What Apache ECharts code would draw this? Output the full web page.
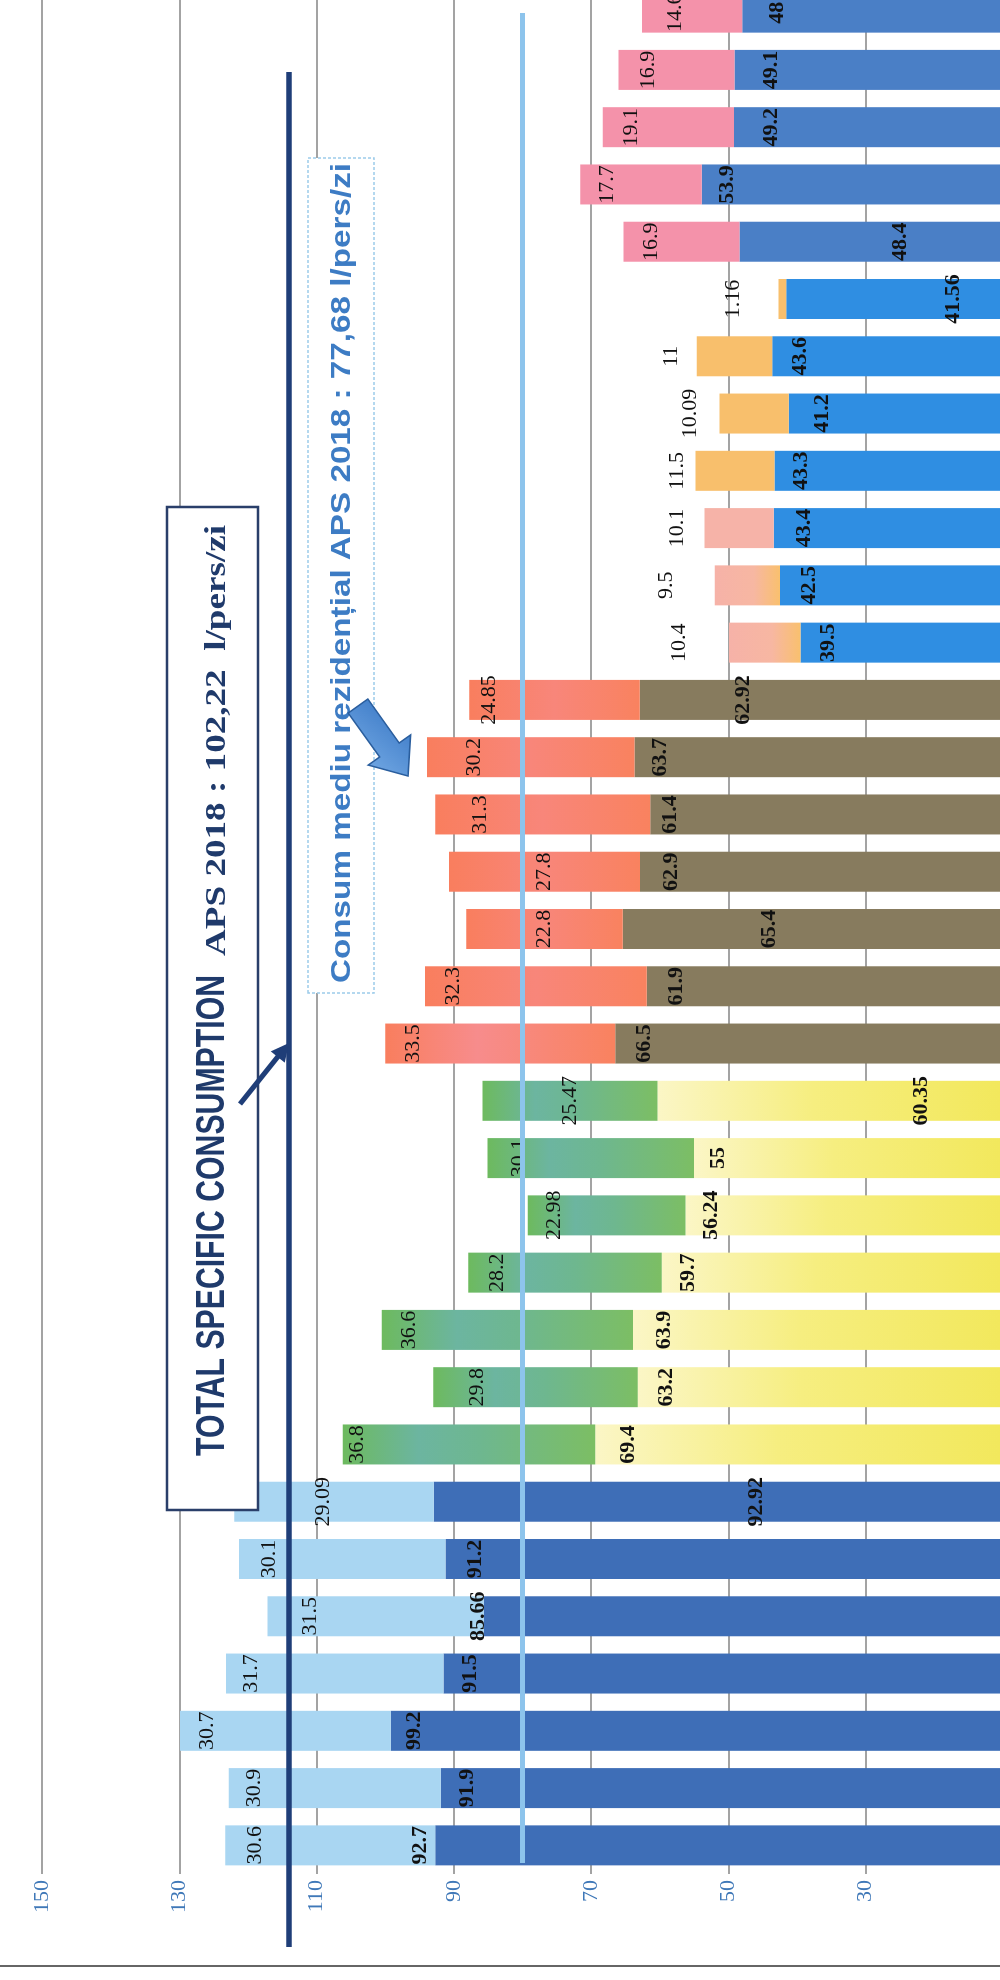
<!DOCTYPE html>
<html>
<head>
<meta charset="utf-8">
<script src="https://cdn.jsdelivr.net/npm/echarts@6/dist/echarts.min.js"></script>
<style>
html,body{margin:0;padding:0;background:#fff;}
#wrap{position:relative;width:1000px;height:1980px;overflow:hidden;background:#fff;}
#main{position:absolute;left:0;top:0;width:1980px;height:1000px;transform-origin:0 0;transform:translate(0px,1980px) rotate(-90deg);}
</style>
</head>
<body>
<div id="wrap"><div id="main"></div></div>
<script>
// ---------------- data ----------------
const categories = ['1','2','3','4','5','6','7','8','9','10','11','12','13','14','15','16','17','18','19','20','21','22','23','24','25','26','27','28','29','30','31','32','33'];
const baseValues = [92.7, 91.9, 99.2, 91.5, 85.66, 91.2, 92.92,
                    69.4, 63.2, 63.9, 59.7, 56.24, 55, 60.35,
                    66.5, 61.9, 65.4, 62.9, 61.4, 63.7, 62.92,
                    39.5, 42.5, 43.4, 43.3, 41.2, 43.6, 41.56,
                    48.4, 53.9, 49.2, 49.1, 48];
const topValues  = [30.6, 30.9, 30.7, 31.7, 31.5, 30.1, 29.09,
                    36.8, 29.8, 36.6, 28.2, 22.98, 30.1, 25.47,
                    33.5, 32.3, 22.8, 27.8, 31.3, 30.2, 24.85,
                    10.4, 9.5, 10.1, 11.5, 10.09, 11, 1.16,
                    16.9, 17.7, 19.1, 16.9, 14.6];
const groupOf    = [0,0,0,0,0,0,0, 1,1,1,1,1,1,1, 2,2,2,2,2,2,2, 3,3,3,3,3,3,3, 4,4,4,4,4];
const valueTicks = [150, 130, 110, 90, 70, 50, 30];
const totalTitle = 'TOTAL SPECIFIC CONSUMPTION';
const totalText  = 'APS 2018 : 102,22  l/pers/zi';
const residentialText = 'Consum mediu rezidențial APS 2018 : 77,68 l/pers/zi';
const totalLineValue = 114;        // where the dark line is drawn in the picture
const residentialLineValue = 80;   // where the light blue line is drawn in the picture

// ---------------- label placement (style, not data) ----------------
const baseLabelPlace = [
  ['top',4],['insideTop',15],['insideTop',13],['insideTop',16],['top',-6],['insideTop',19],['insideTop',311],
  ['insideTop',22],['insideTop',17],['insideTop',20],['insideTop',15],['insideTop',15],['insideTop',13],['insideBottom',71],
  ['insideTop',18],['insideTop',19],['insideTop',136],['insideTop',20],['insideTop',9],['insideTop',15],['insideTop',93],
  ['insideTop',17],['insideTop',18],['insideTop',20],['insideTop',16],['insideTop',22],['insideTop',17],['insideBottom',39],
  ['insideBottom',92],['insideTop',15],['insideTop',26],['insideTop',26],['insideTop',24]
];
const topLabelPlace = [
  ['insideTop',19],['insideTop',15],['insideTop',16],['insideTop',14],['insideTop',32],['insideTop',19],['insideTop',78],
  ['insideTop',4],['insideTop',33],['insideTop',16],['insideTop',18],['insideTop',15],['insideTop',21],['inside',0],
  ['insideTop',17],['insideTop',17],['inside',0],['inside',0],['insideTop',34],['insideTop',36],['insideTop',9],
  ['top',39],['top',37],['top',16],['top',7],['top',18],['top',15],['top',34],
  ['insideTop',17],['insideTop',16],['insideTop',17],['insideTop',19],['insideTop',22]
];

// ---------------- styles ----------------
const LG = (stops) => new echarts.graphic.LinearGradient(0, 0, 0, 1, stops.map(s => ({offset: s[0], color: s[1]})));
function baseColor(i) {
  switch (groupOf[i]) {
    case 0: return '#3E6EB7';
    case 1: return LG([[0,'#FBF6C6'],[0.45,'#F6EE80'],[1,'#F2E85C']]);
    case 2: return '#877B5E';
    case 3: return '#2F8EE2';
    default: return '#4A7FC6';
  }
}
function topColor(i) {
  switch (groupOf[i]) {
    case 0: return '#A9D6F2';
    case 1: return LG([[0,'#6DBA5E'],[0.3,'#6CB5A0'],[0.55,'#6EB78F'],[1,'#7CBE64']]);
    case 2:
      if (i === 14) return LG([[0,'#F97E5E'],[0.4,'#F78C8C'],[1,'#F9825F']]);
      return LG([[0,'#F97E5E'],[0.5,'#F8867A'],[1,'#F9825F']]);
    case 3:
      if (i === 21 || i === 22) return LG([[0,'#F6B2A8'],[0.6,'#F7B7A2'],[1,'#F9C06E']]);
      if (i === 23) return '#F6B3A8';
      return '#F8BF6C';
    default: return '#F492AA';
  }
}
const serif = "'Liberation Serif','Times New Roman',serif";
const sans = "'Liberation Sans',Arial,sans-serif";

function measure(text, font) {
  const c = document.createElement('canvas').getContext('2d');
  c.font = font;
  return c.measureText(text).width;
}

const chart = echarts.init(document.getElementById('main'), null, {renderer: 'canvas', width: 1980, height: 1000});

function mkData(values, colorFn, place) {
  return values.map((v, i) => ({
    value: v,
    itemStyle: {color: colorFn(i)},
    label: {position: place[i][0], distance: place[i][1]}
  }));
}

const option = {
  backgroundColor: '#ffffff',
  animation: false,
  grid: {left: 106, right: -16, top: 42, bottom: -3, containLabel: false, outerBoundsMode: 'none'},
  xAxis: {
    type: 'category', data: categories,
    axisLine: {show: false}, axisTick: {show: false}, axisLabel: {show: false}, splitLine: {show: false}
  },
  yAxis: {
    type: 'value', min: 10, max: 150, interval: 20,
    axisLine: {show: false}, axisTick: {show: false},
    axisLabel: {
      showMinLabel: false, margin: 6, color: '#3F78B8', fontFamily: serif, fontSize: 22,
      formatter: v => valueTicks.includes(v) ? String(v) : ''
    },
    splitLine: {show: true, lineStyle: {color: '#858585', width: 1.5}}
  },
  series: [
    {
      name: 'base', type: 'bar', stack: 'total', barWidth: 40,
      label: {show: true, color: '#111', fontFamily: serif, fontSize: 22, fontWeight: 'bold'},
      data: mkData(baseValues, baseColor, baseLabelPlace)
    },
    {
      name: 'top', type: 'bar', stack: 'total', barWidth: 40,
      label: {show: true, color: '#111', fontFamily: serif, fontSize: 22, fontWeight: 'normal'},
      data: mkData(topValues, topColor, topLabelPlace)
    }
  ]
};
chart.setOption(option);

// ---------------- annotations ----------------
const yTotal = chart.convertToPixel({yAxisIndex: 0}, totalLineValue);
const yRes = chart.convertToPixel({yAxisIndex: 0}, residentialLineValue);

function arrowHead(x1, y1, x2, y2, len, half) {
  const dx = x2 - x1, dy = y2 - y1, L = Math.hypot(dx, dy), ux = dx / L, uy = dy / L;
  const bx = x2 - ux * len, by = y2 - uy * len;
  return [[x2, y2], [bx - uy * half, by + ux * half], [bx + uy * half, by - ux * half]];
}
function blockArrow(x1, y1, x2, y2, shaftHalf, headHalf, headLen) {
  const dx = x2 - x1, dy = y2 - y1, L = Math.hypot(dx, dy), ux = dx / L, uy = dy / L;
  const nx = -uy, ny = ux;
  const bx = x2 - ux * headLen, by = y2 - uy * headLen;
  return [
    [x1 + nx * shaftHalf, y1 + ny * shaftHalf],
    [bx + nx * shaftHalf, by + ny * shaftHalf],
    [bx + nx * headHalf, by + ny * headHalf],
    [x2, y2],
    [bx - nx * headHalf, by - ny * headHalf],
    [bx - nx * shaftHalf, by - ny * shaftHalf],
    [x1 - nx * shaftHalf, y1 - ny * shaftHalf]
  ];
}

const fontA = 'bold 40px ' + sans;
const fontB = 'bold 30px ' + serif;
const fontC = 'bold 28px ' + sans;
const sA = 481 / measure(totalTitle, fontA);
const sB = 431 / measure(totalText, fontB);
const sC = 820 / measure(residentialText, fontC);

chart.setOption({
  graphic: [
    {type: 'line', z: 90, shape: {x1: 14, y1: 0, x2: 14, y2: 1000}, style: {stroke: '#666', lineWidth: 2}},
    {type: 'line', z: 95, shape: {x1: 117, y1: yRes, x2: 1967, y2: yRes}, style: {stroke: '#8DC4EC', lineWidth: 5}},
    {type: 'line', z: 96, shape: {x1: 33, y1: yTotal, x2: 1908, y2: yTotal}, style: {stroke: '#1F3E78', lineWidth: 5.5}},
    {type: 'rect', z: 97, shape: {x: 470, y: 167, width: 1003, height: 91}, style: {fill: '#fff', stroke: '#2A3F6A', lineWidth: 2.5}},
    {type: 'text', z: 98, x: 524, y: 233, scaleX: sA, style: {text: totalTitle, font: fontA, fill: '#1F3A6B', verticalAlign: 'bottom', align: 'left'}},
    {type: 'text', z: 98, x: 1024, y: 232, scaleX: sB, style: {text: totalText, font: fontB, fill: '#1F3A6B', verticalAlign: 'bottom', align: 'left'}},
    {type: 'line', z: 98, shape: {x1: 876, y1: 240, x2: 926, y2: 280}, style: {stroke: '#1F3E78', lineWidth: 5}},
    {type: 'polygon', z: 98, shape: {points: arrowHead(876, 240, 937, 289, 18, 9)}, style: {fill: '#1F3E78'}},
    {type: 'rect', z: 97, shape: {x: 987, y: 308, width: 835, height: 66}, style: {fill: '#fff', stroke: '#9CCBEA', lineWidth: 1.5, lineDash: [3, 2]}},
    {type: 'text', z: 98, x: 997, y: 342, scaleX: sC, style: {text: residentialText, font: fontC, fill: '#3D7CC4', verticalAlign: 'middle', align: 'left'}},
    {type: 'polygon', z: 98, shape: {points: blockArrow(1274, 358, 1204, 408, 12, 26, 32)},
     style: {fill: new echarts.graphic.LinearGradient(0, 0, 1, 1, [{offset: 0, color: '#7FB3EA'}, {offset: 1, color: '#2F6FC0'}]), stroke: '#2A5E9E', lineWidth: 1.5}}
  ]
});
</script>
</body>
</html>
